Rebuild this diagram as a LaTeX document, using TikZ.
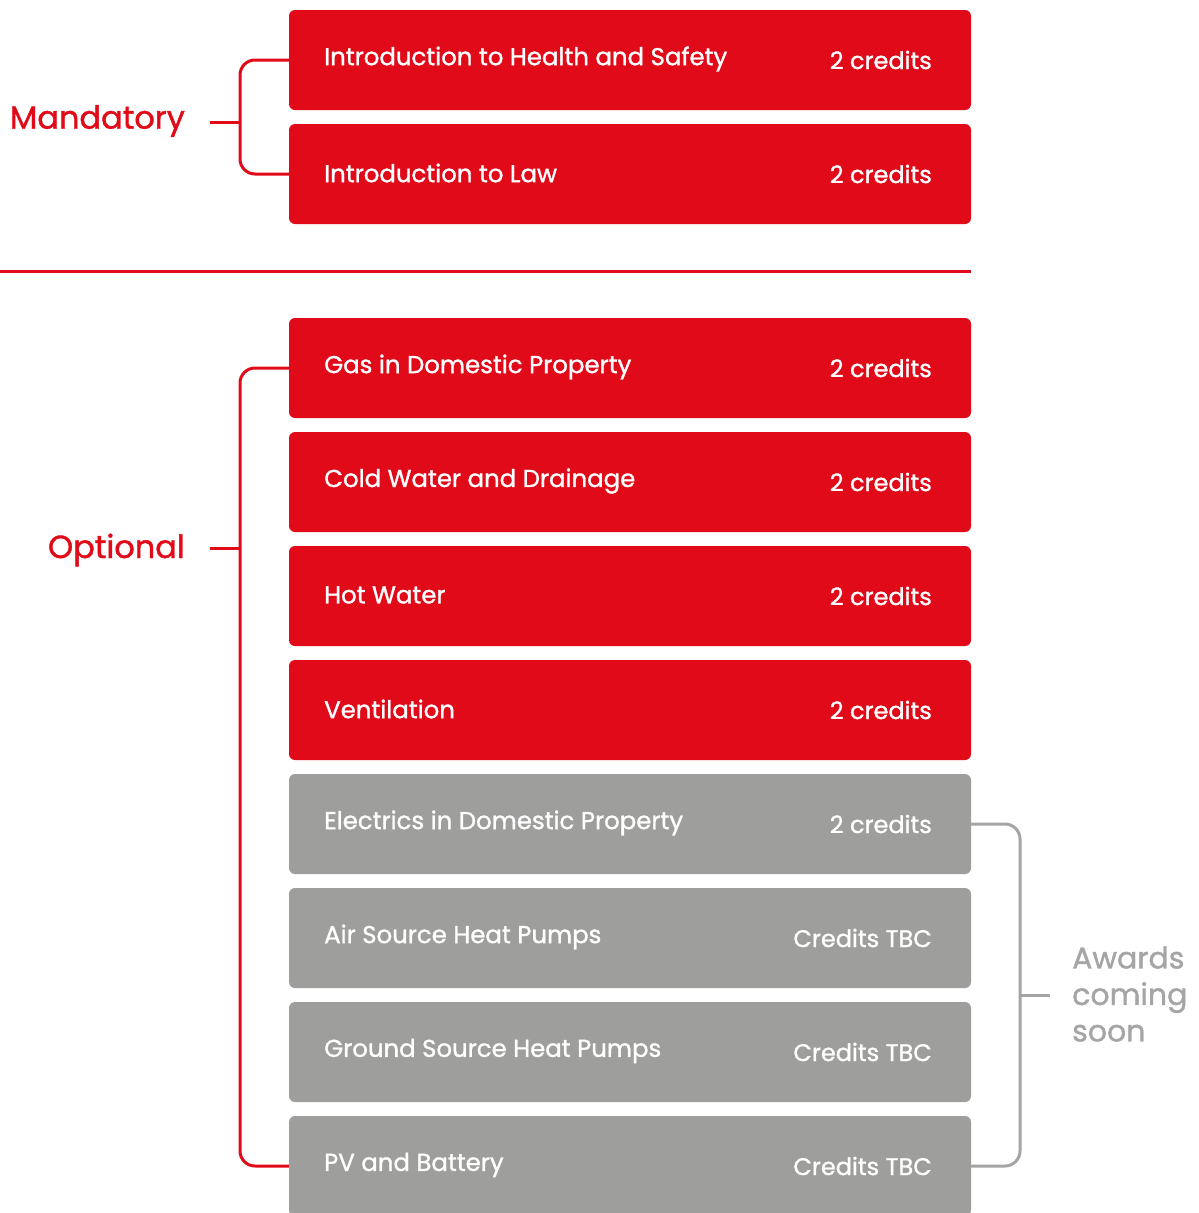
\documentclass[tikz,border=0pt]{standalone}
\usepackage{fontspec}
\setmainfont{Poppins}[FakeBold=1.2]
\definecolor{rred}{RGB}{225,10,25}
\definecolor{rgray}{RGB}{158,158,157}
\definecolor{lgray}{RGB}{165,165,165}
\tikzset{
  modbox/.style={rectangle, rounded corners=6, minimum width=682, minimum height=100, inner sep=0, draw=none},
  redbox/.style={modbox, fill=rred},
  graybox/.style={modbox, fill=rgray},
  title/.style={anchor=west, text=white, inner sep=0, font=\fontsize{24.4}{28}\selectfont},
  cred/.style={anchor=east, text=white, inner sep=0, font=\fontsize{24}{28}\selectfont},
  redline/.style={draw=rred, line width=3, rounded corners=15},
  grayline/.style={draw=lgray, line width=3, rounded corners=15},
  biglabel/.style={inner sep=0, font=\fontsize{32}{38}\selectfont},
}
\begin{document}
\begin{tikzpicture}[x=1pt,y=-1pt]
\clip (0,0) rectangle (1199,1213);
\fill[white] (0,0) rectangle (1199,1213);
% boxes
\foreach \n/\y/\st/\t/\c in {
  1/60/redbox/Introduction to Health and Safety/2 credits,
  2/174/redbox/Introduction to Law/2 credits,
  3/368/redbox/Gas in Domestic Property/2 credits,
  4/482/redbox/Cold Water and Drainage/2 credits,
  5/596/redbox/Hot Water/2 credits,
  6/710/redbox/Ventilation/2 credits,
  7/824/graybox/Electrics in Domestic Property/2 credits,
  8/938/graybox/Air Source Heat Pumps/Credits TBC,
  9/1052/graybox/Ground Source Heat Pumps/Credits TBC,
  10/1166/graybox/PV and Battery/Credits TBC}{
  \node[\st] (b\n) at (630,\y) {};
  \node[title] (t\n) at (324,\y-1) {\t};
  \node[cred] (c\n) at (932,\y) {\c};
}
% separator
\coordinate (sepL) at (0,271);
\coordinate (sepR) at (971,271);
\draw[draw=rred, line width=3] (sepL) -- (sepR);
% labels
\node[biglabel, text=rred, anchor=east] (mand) at (185,121) {Mandatory};
\node[biglabel, text=rred, anchor=east] (opt) at (185,550) {Optional};
\node[biglabel, text=lgray, anchor=west, align=left, font=\fontsize{30}{36.5}\selectfont] (aw) at (1072,994) {Awards\\coming\\soon};
% brackets
\coordinate (mj) at (240,122);
\coordinate (ms) at (210,122);
\draw[redline] (b1.west) -| (mj) |- (b2.west);
\draw[draw=rred, line width=3] (ms) -- (mj);
\coordinate (oj) at (240,548);
\coordinate (os) at (210,548);
\draw[redline] (b3.west) -| (oj) |- (b10.west);
\draw[draw=rred, line width=3] (os) -- (oj);
\coordinate (aj) at (1020,995);
\coordinate (as) at (1050,995);
\draw[grayline] (b7.east) -| (aj) |- (b10.east);
\draw[draw=lgray, line width=3] (aj) -- (as);
\end{tikzpicture}
\end{document}
